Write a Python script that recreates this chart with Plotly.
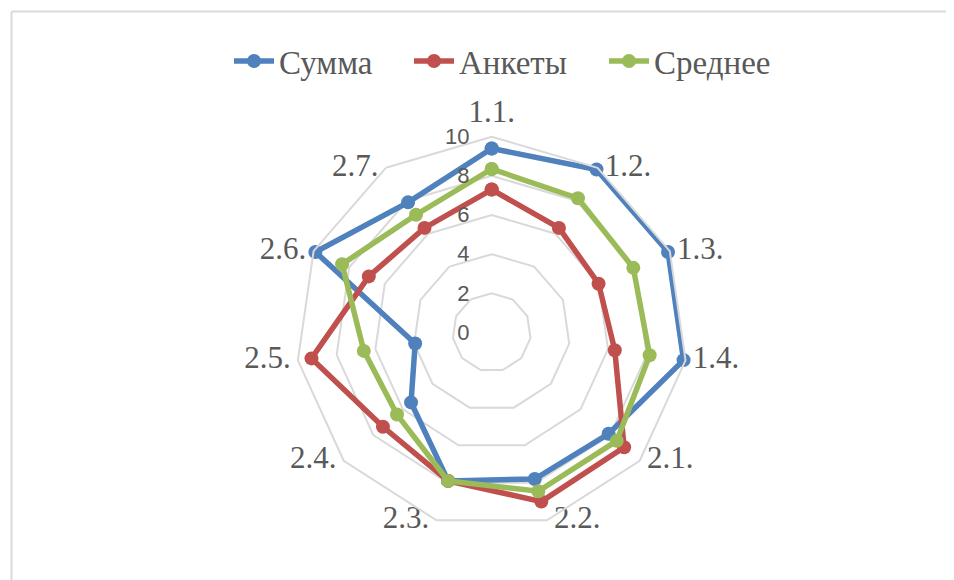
import plotly.graph_objects as go

categories = ["1.1.", "1.2.", "1.3.", "1.4.", "2.1.", "2.2.", "2.3.", "2.4.", "2.5.", "2.6.", "2.7."]
summa = [9.4, 9.9, 9.9, 9.9, 7.9, 7.8, 7.9, 5.45, 3.95, 9.9, 7.9]
ankety = [7.3, 6.35, 6.0, 6.35, 8.95, 9.0, 7.9, 7.35, 9.3, 6.9, 6.35]
srednee = [8.35, 8.15, 7.95, 8.15, 8.45, 8.45, 7.9, 6.4, 6.6, 8.4, 7.15]
series_names = ["Сумма", "Анкеты", "Среднее"]
colors = ["#4F81BD", "#C0504D", "#9BBB59"]
radial_ticks = [0, 2, 4, 6, 8, 10]

# page body has an 8px margin; work in figure coordinates
OFF = 8
W, H = 954 - OFF, 580 - OFF
cx, cy, R = 491.7 - OFF, 332.5 - OFF, 195.8
rmax = radial_ticks[-1]

legend_names = ["legend", "legend2", "legend3"]
legend_left = [229, 409, 604]

fig = go.Figure()
for name, vals, col, lg in zip(series_names, [summa, ankety, srednee], colors, legend_names):
    fig.add_trace(go.Scatterpolar(
        r=vals + vals[:1],
        theta=categories + categories[:1],
        mode="lines+markers",
        name=name,
        legend=lg,
        line=dict(color=col, width=5.5),
        marker=dict(color=col, size=14),
    ))

# category labels placed at the outer ring vertices (Excel style)
n = len(categories)
positions = ["top center"] + ["middle right"] * 5 + ["middle left"] * 5
fig.add_trace(go.Scatterpolar(
    r=[rmax] * n,
    theta=categories,
    mode="markers+text",
    text=categories,
    textposition=positions,
    marker=dict(size=10, opacity=0, color="white"),
    textfont=dict(family="Liberation Serif", size=31, color="#595959"),
    cliponaxis=False,
    showlegend=False,
    hoverinfo="skip",
))

grid = "#d9d9d9"
legend_font = dict(family="Liberation Serif", size=33, color="#595959")
layout_legends = {}
for lg, xl in zip(legend_names, legend_left):
    layout_legends[lg] = dict(
        orientation="h", x=(xl - OFF) / W, xanchor="left", y=1 - (61 - OFF) / H, yanchor="middle",
        font=legend_font, itemwidth=40, bgcolor="rgba(0,0,0,0)",
    )

fig.update_layout(
    width=W, height=H,
    margin=dict(l=0, r=0, t=0, b=0),
    paper_bgcolor="white",
    plot_bgcolor="white",
    showlegend=True,
    polar=dict(
        domain=dict(x=[(cx - R) / W, (cx + R) / W], y=[1 - (cy + R) / H, 1 - (cy - R) / H]),
        bgcolor="white",
        gridshape="linear",
        angularaxis=dict(
            type="category", categoryorder="array", categoryarray=categories,
            direction="clockwise", rotation=90,
            showgrid=False, showline=True, linecolor=grid, linewidth=2,
            ticks="", showticklabels=False,
        ),
        radialaxis=dict(
            range=[0, rmax], tickvals=radial_ticks, angle=90, tickangle=90,
            side="counterclockwise",
            showline=False, gridcolor=grid, gridwidth=2,
            ticks="outside", ticklen=14, tickcolor="rgba(0,0,0,0)",
            tickfont=dict(family="Liberation Sans", size=22, color="#595959"),
        ),
    ),
    shapes=[
        dict(type="line", xref="paper", yref="paper", x0=(11.5 - OFF) / W, x1=1,
             y0=1 - (11.5 - OFF) / H, y1=1 - (11.5 - OFF) / H,
             line=dict(color="#d9d9d9", width=2)),
        dict(type="line", xref="paper", yref="paper", x0=(11.5 - OFF) / W, x1=(11.5 - OFF) / W,
             y0=0, y1=1 - (11.5 - OFF) / H,
             line=dict(color="#d9d9d9", width=2)),
    ],
    **layout_legends,
)

fig.write_html("out.html")
